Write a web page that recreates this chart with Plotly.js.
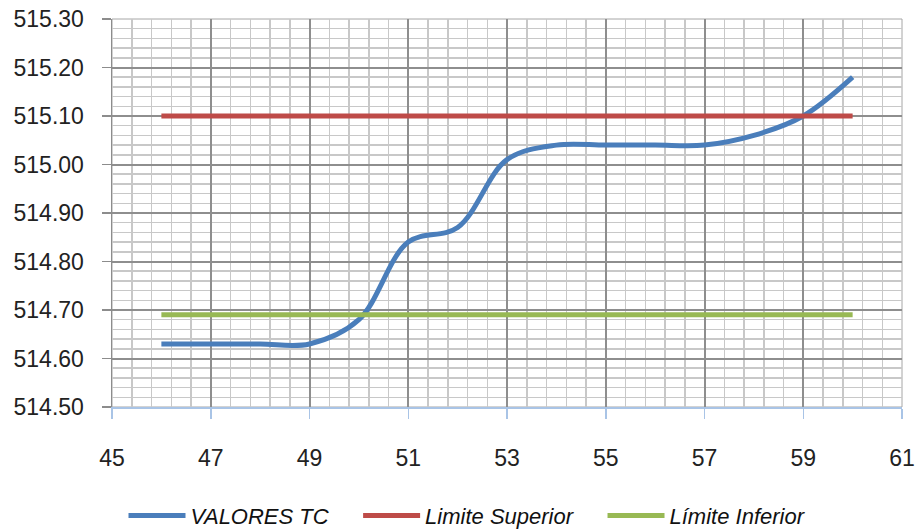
<!DOCTYPE html>
<html>
<head>
<meta charset="utf-8">
<script src="https://cdn.plot.ly/plotly-3.0.1.min.js"></script>
<style>
  html, body { margin: 0; padding: 0; background: #ffffff; }
  #chart { width: 920px; height: 531px; }
</style>
</head>
<body>
<div id="chart"></div>
<script>
// Measurement points
var puntos = [46, 47, 48, 49, 50, 51, 52, 53, 54, 55, 56, 57, 58, 59, 60];
// Measured TC values
var valoresTC = [514.63, 514.63, 514.63, 514.63, 514.68, 514.84, 514.87, 515.01, 515.04, 515.04, 515.04, 515.04, 515.06, 515.10, 515.18];
// Control limits
var limiteSuperior = 515.10;
var limiteInferior = 514.69;
// Legend labels
var nombres = ['VALORES TC', 'Limite Superior', 'Límite Inferior'];

var serieSuperior = puntos.map(function () { return limiteSuperior; });
var serieInferior = puntos.map(function () { return limiteInferior; });

// Minor grid positions between the major ticks (rounded so they never sit on a major line)
function minorGrid(start, end, step, majorEvery, decimals) {
  var vals = [];
  var n = Math.round((end - start) / step);
  for (var i = 0; i <= n; i++) {
    if (i % majorEvery === 0) continue;
    vals.push(+(start + i * step).toFixed(decimals));
  }
  return vals;
}

// Non-breaking padding keeps the horizontal legend entries apart
var pad = '\u00a0\u00a0\u00a0\u00a0';

var traces = [
  {
    x: puntos, y: valoresTC, name: nombres[0] + pad, type: 'scatter', mode: 'lines',
    line: { color: '#4A7EBB', width: 5, shape: 'spline', smoothing: 1 }
  },
  {
    x: puntos, y: serieSuperior, name: nombres[1] + pad, type: 'scatter', mode: 'lines',
    line: { color: '#BE4B48', width: 5 }
  },
  {
    x: puntos, y: serieInferior, name: nombres[2], type: 'scatter', mode: 'lines',
    line: { color: '#98B954', width: 5 }
  }
];

var tickFont = { family: 'Liberation Sans, Arial, sans-serif', size: 23, color: '#222222' };

var layout = {
  width: 920, height: 531,
  margin: { l: 112, r: 18, t: 19, b: 124, autoexpand: false },
  paper_bgcolor: '#ffffff', plot_bgcolor: '#ffffff',
  showlegend: true,
  legend: {
    orientation: 'h', x: 0.45, xanchor: 'center', y: -0.28, yanchor: 'middle',
    font: { family: 'Liberation Sans, Arial, sans-serif', size: 22, color: '#111111', style: 'italic' },
    itemwidth: 57
  },
  xaxis: {
    range: [45, 61], tick0: 45, dtick: 2, tickformat: 'd',
    showgrid: true, gridcolor: '#8E8E8E', gridwidth: 2,
    minor: { tickmode: 'array', tickvals: minorGrid(45, 61, 0.4, 5, 1), showgrid: true, gridcolor: '#C8C8C8', gridwidth: 1.5, ticks: '' },
    showline: true, linecolor: '#A9C4E6', linewidth: 1.5,
    ticks: 'outside', ticklen: 10, tickcolor: '#A9C4E6', tickwidth: 1.5,
    ticklabelstandoff: 20,
    tickfont: tickFont, zeroline: false, fixedrange: true
  },
  yaxis: {
    range: [514.50, 515.30], tick0: 514.5, dtick: 0.1, tickformat: '.2f',
    showgrid: true, gridcolor: '#8E8E8E', gridwidth: 2,
    minor: { tickmode: 'array', tickvals: minorGrid(514.5, 515.3, 0.02, 5, 2), showgrid: true, gridcolor: '#C8C8C8', gridwidth: 1.5, ticks: '' },
    showline: true, linecolor: '#8C8C8C', linewidth: 1.5,
    ticks: 'outside', ticklen: 9, tickcolor: '#8C8C8C', tickwidth: 1.5,
    ticklabelstandoff: 13,
    tickfont: tickFont, zeroline: false, fixedrange: true
  },
  shapes: [
    { type: 'rect', xref: 'paper', yref: 'paper', x0: 0, x1: 1, y0: 0, y1: 1,
      line: { color: '#A6A6A6', width: 1 }, fillcolor: 'rgba(0,0,0,0)', layer: 'below' }
  ]
};

Plotly.newPlot('chart', traces, layout, { staticPlot: true, displayModeBar: false });
</script>
</body>
</html>
